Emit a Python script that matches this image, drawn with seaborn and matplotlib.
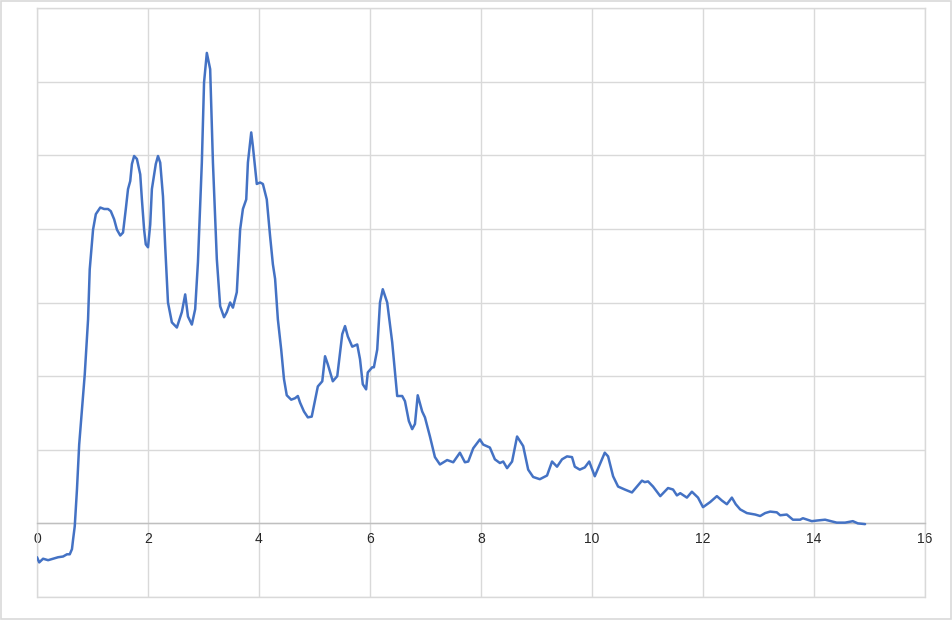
import matplotlib
matplotlib.use("Agg")
import matplotlib.pyplot as plt
import seaborn as sns
import pandas as pd
from matplotlib.patches import Rectangle

x_vals = [0.00, 0.04, 0.11, 0.20, 0.38, 0.47, 0.54, 0.59, 0.63, 0.65,
          0.68, 0.72, 0.76, 0.81, 0.86, 0.92, 0.95, 1.01, 1.06, 1.14,
          1.21, 1.28, 1.33, 1.39, 1.44, 1.50, 1.55, 1.60, 1.64, 1.68,
          1.71, 1.75, 1.80, 1.86, 1.89, 1.93, 1.96, 2.00, 2.04, 2.07,
          2.11, 2.14, 2.18, 2.22, 2.27, 2.31, 2.36, 2.43, 2.52, 2.61,
          2.67, 2.72, 2.79, 2.85, 2.90, 2.97, 3.01, 3.06, 3.12, 3.17,
          3.24, 3.30, 3.37, 3.42, 3.48, 3.53, 3.60, 3.66, 3.71, 3.77,
          3.80, 3.86, 3.89, 3.96, 4.02, 4.07, 4.14, 4.20, 4.25, 4.29,
          4.34, 4.40, 4.45, 4.50, 4.58, 4.65, 4.70, 4.74, 4.81, 4.88,
          4.95, 5.06, 5.14, 5.19, 5.24, 5.33, 5.41, 5.50, 5.55, 5.60,
          5.68, 5.77, 5.82, 5.87, 5.93, 5.96, 6.04, 6.07, 6.13, 6.18,
          6.23, 6.31, 6.40, 6.49, 6.58, 6.63, 6.70, 6.76, 6.81, 6.86,
          6.94, 6.99, 7.08, 7.17, 7.26, 7.39, 7.50, 7.62, 7.71, 7.77,
          7.86, 7.98, 8.04, 8.16, 8.25, 8.34, 8.40, 8.47, 8.56, 8.65,
          8.76, 8.85, 8.94, 9.06, 9.19, 9.28, 9.37, 9.46, 9.55, 9.64,
          9.69, 9.78, 9.87, 9.95, 10.05, 10.14, 10.23, 10.29, 10.38, 10.47,
          10.59, 10.72, 10.81, 10.90, 10.95, 11.01, 11.10, 11.23, 11.37, 11.46,
          11.53, 11.59, 11.71, 11.80, 11.91, 12.00, 12.13, 12.25, 12.34, 12.43,
          12.52, 12.59, 12.67, 12.79, 12.94, 13.03, 13.12, 13.21, 13.33, 13.39,
          13.51, 13.62, 13.75, 13.80, 13.96, 14.07, 14.20, 14.41, 14.56, 14.70,
          14.79, 14.92]

y_vals = [-0.46, -0.53, -0.48, -0.50, -0.46, -0.45, -0.42, -0.42, -0.35, -0.22,
          -0.04, 0.46, 1.07, 1.55, 2.02, 2.77, 3.45, 3.99, 4.20, 4.29,
          4.27, 4.27, 4.24, 4.13, 3.99, 3.91, 3.95, 4.27, 4.54, 4.65,
          4.88, 4.99, 4.95, 4.74, 4.40, 3.99, 3.79, 3.75, 4.06, 4.54,
          4.74, 4.88, 4.99, 4.90, 4.44, 3.76, 3.00, 2.73, 2.66, 2.87,
          3.11, 2.81, 2.70, 2.91, 3.55, 4.90, 5.99, 6.39, 6.17, 4.90,
          3.59, 2.95, 2.80, 2.87, 3.00, 2.93, 3.14, 3.99, 4.27, 4.40,
          4.90, 5.31, 5.12, 4.61, 4.63, 4.61, 4.40, 3.90, 3.52, 3.32,
          2.77, 2.36, 1.96, 1.74, 1.68, 1.70, 1.73, 1.64, 1.52, 1.44,
          1.45, 1.86, 1.93, 2.27, 2.16, 1.93, 2.00, 2.57, 2.68, 2.54,
          2.40, 2.43, 2.23, 1.89, 1.82, 2.05, 2.12, 2.12, 2.36, 3.00,
          3.18, 3.00, 2.46, 1.73, 1.73, 1.66, 1.39, 1.28, 1.35, 1.74,
          1.52, 1.44, 1.18, 0.90, 0.80, 0.86, 0.83, 0.96, 0.83, 0.84,
          1.02, 1.14, 1.07, 1.03, 0.87, 0.82, 0.84, 0.75, 0.84, 1.18,
          1.05, 0.73, 0.63, 0.60, 0.65, 0.84, 0.77, 0.87, 0.91, 0.90,
          0.77, 0.73, 0.76, 0.84, 0.64, 0.80, 0.96, 0.91, 0.64, 0.50,
          0.46, 0.42, 0.50, 0.58, 0.56, 0.57, 0.50, 0.37, 0.48, 0.46,
          0.38, 0.41, 0.35, 0.43, 0.35, 0.22, 0.29, 0.37, 0.31, 0.26,
          0.35, 0.26, 0.19, 0.14, 0.12, 0.10, 0.14, 0.16, 0.15, 0.11,
          0.12, 0.05, 0.05, 0.07, 0.03, 0.04, 0.05, 0.01, 0.01, 0.03,
          0.00, -0.01]

x_ticks = [0, 2, 4, 6, 8, 10, 12, 14, 16]
y_grid = [-1, 0, 1, 2, 3, 4, 5, 6, 7]

data = pd.DataFrame({'x': x_vals, 'y': y_vals})

sns.set_style('white')
plt.rcParams['font.family'] = ['Liberation Sans', 'DejaVu Sans']

fig = plt.figure(figsize=(9.53, 6.20), dpi=100)
ax = fig.add_axes([37 / 953, 1 - 597 / 620, (925 - 37) / 953, (597 - 8) / 620])

# рамка вокруг всей картинки
fig.patches.append(Rectangle((0.001, 0.001), 0.997, 0.997, transform=fig.transFigure,
                             fill=False, edgecolor='#d9d9d9', linewidth=1.2))

for gy in y_grid:
    ax.axhline(gy, color='#d9d9d9', linewidth=1, zorder=0)
for gx in x_ticks:
    ax.axvline(gx, color='#d9d9d9', linewidth=1, zorder=0)

sns.lineplot(data=data, x='x', y='y', ax=ax, color='#4472C4', linewidth=1.8,
             sort=False, estimator=None, zorder=3,
             solid_joinstyle='round', solid_capstyle='round')

ax.set_xlim(0, 16)
ax.set_ylim(-1, 7)
ax.set_yticks([])
ax.set_xticks(x_ticks)
ax.set_xticklabels([str(t) for t in x_ticks], fontsize=9, color='#595959')
ax.tick_params(axis='x', length=0, pad=6)
ax.set_xlabel('')
ax.set_ylabel('')

for side in ['left', 'right', 'top']:
    ax.spines[side].set_color('#d9d9d9')
    ax.spines[side].set_linewidth(1)
ax.spines['bottom'].set_position(('data', 0))
ax.spines['bottom'].set_color('#bfbfbf')
ax.spines['bottom'].set_linewidth(1)
ax.plot([0, 1], [0, 0], transform=ax.transAxes, color='#d9d9d9', linewidth=1,
        clip_on=False, zorder=1)

plt.savefig('out.png', dpi=100)
